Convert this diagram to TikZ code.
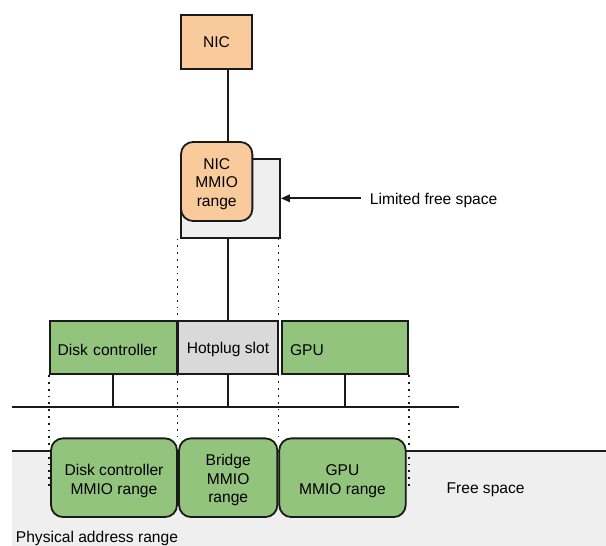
\documentclass[tikz,border=0pt]{standalone}
\usepackage{fontspec}
\setmainfont{Liberation Sans}
\usetikzlibrary{arrows.meta}
\definecolor{nicorange}{HTML}{F9CB9C}
\definecolor{devgreen}{HTML}{93C47D}
\definecolor{slotgray}{HTML}{D9D9D9}
\definecolor{freegray}{HTML}{EFEFEF}
\definecolor{ink}{HTML}{1A1A1A}
\newcommand{\toppad}{\rule{0pt}{16pt}}
\begin{document}
\begin{tikzpicture}[x=1pt,y=-1pt,line width=1.8pt,draw=ink,
  font=\fontsize{15.6}{18.3}\selectfont,
  box/.style={draw=ink,inner sep=0pt,align=center},
  roundbox/.style={box,rounded corners=12pt},
  devbox/.style={draw=ink,fill=devgreen,inner xsep=7.7pt,inner ysep=0pt,
    text width=111.1pt,align=left,minimum height=53.6pt},
  dotline/.style={line width=1.6pt,dash pattern=on 1.8pt off 5pt},
  plain/.style={inner sep=0pt,anchor=base west},
  pointer/.style={-{Triangle[length=9pt,width=7.5pt]}}
]
\useasboundingbox (0,0) rectangle (606,546);

% physical address range band
\fill[freegray] (11.7,451) rectangle (606,546);
\draw (11.7,451) -- (606,451);

% NIC and its MMIO window inside the limited free space
\node[box,fill=nicorange,minimum width=71pt,minimum height=54pt] (nic) at (216.5,42.3) {NIC};
\node[box,fill=freegray,minimum width=99pt,minimum height=79pt] (limited) at (230.5,198.2) {};
\node[roundbox,fill=nicorange,minimum width=71.3pt,minimum height=79pt] (nicmmio) at (216.7,181.5) {\toppad NIC\\MMIO\\range};

% device row
\node[devbox] (disk) at (113.25,347.5) {\toppad Disk controller};
\node[box,fill=slotgray,minimum width=99.4pt,minimum height=53.6pt] (hot) at (228,347.5) {\toppad Hotplug slot};
\node[devbox,text width=110.3pt] (gpu) at (345.15,347.5) {\toppad GPU};

% MMIO ranges in the address space
\node[roundbox,fill=devgreen,minimum width=126pt,minimum height=78.7pt] (diskmmio) at (114,477.7) {\rule{0pt}{18pt}Disk controller\\MMIO range};
\node[roundbox,fill=devgreen,minimum width=98.3pt,minimum height=78.7pt] (bridge) at (228.2,477.7) {\toppad Bridge\\MMIO\\range};
\node[roundbox,fill=devgreen,minimum width=126.4pt,minimum height=78.7pt] (gpummio) at (342.5,477.7) {\rule{0pt}{18pt}GPU\\MMIO range};

% labels
\node[plain] (lfs) at (369,204) {Limited free space};
\node[plain] (free) at (445.7,493.3) {Free space};
\node[plain] (phys) at (15,542.7) {Physical address range};

% bus
\coordinate (busL) at (11.7,406.7);
\coordinate (busR) at (459.3,406.7);
\draw (busL) -- (busR);
\draw (disk.south) -- (disk.south |- busL);
\draw (hot.south) -- (hot.south |- busL);
\draw (gpu.south) -- (gpu.south |- busL);

% vertical links
\draw (nic.south -| hot.north) -- (nicmmio.north -| hot.north);
\draw (limited.south -| hot.north) -- (hot.north);

% pointer to the limited free space
\coordinate (arrtail) at (360.7,198.3);
\draw[pointer] (arrtail) -- (arrtail -| limited.east);

% projection guides
\coordinate (dotend) at (0,486);
\draw[dotline] (limited.south -| hot.west) -- (bridge.north -| hot.west);
\draw[dotline] (limited.south -| hot.east) -- (bridge.north -| hot.east);
\draw[dotline] (disk.south west) -- (disk.south west |- dotend);
\draw[dotline] (gpu.south east) -- (gpu.south east |- dotend);
\end{tikzpicture}
\end{document}
